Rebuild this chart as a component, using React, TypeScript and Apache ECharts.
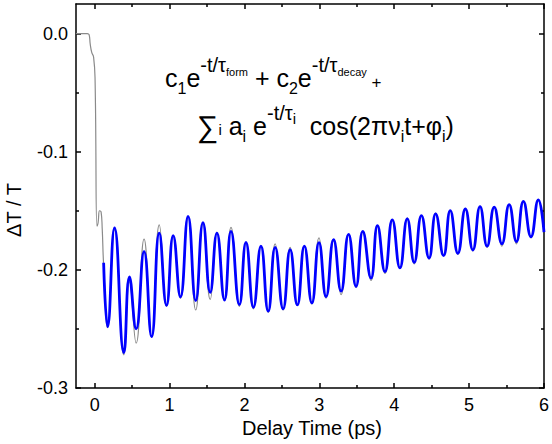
import React, { useEffect, useRef } from "react";
import * as echarts from "echarts";

// ---- data ----
const xMajorTicks = [0, 1, 2, 3, 4, 5, 6];
const xMinorTicks = [0.5, 1.5, 2.5, 3.5, 4.5, 5.5];
const yMajorTicks = [-0.3, -0.2, -0.1, 0];
const yMinorTicks = [-0.25, -0.15, -0.05];

const measuredTime = [
  -0.25, -0.1, -0.075, -0.06, -0.04, -0.015, 0.005, 0.03, 0.045, 0.065, 0.085, 0.1,
  0.119, 0.172, 0.265, 0.389, 0.464, 0.553, 0.659, 0.76, 0.862, 0.959, 1.048, 1.145,
  1.247, 1.349, 1.446, 1.542, 1.632, 1.733, 1.82, 1.932, 2.02, 2.12, 2.22, 2.317,
  2.41, 2.516, 2.61, 2.706, 2.8, 2.9, 2.995, 3.09, 3.19, 3.29, 3.39, 3.49, 3.58,
  3.69, 3.776, 3.876, 3.974, 4.076, 4.174, 4.267, 4.363, 4.465, 4.553, 4.659, 4.748,
  4.85, 4.95, 5.05, 5.146, 5.24, 5.335, 5.438, 5.535, 5.632, 5.725, 5.826, 5.924, 6.0,
];
const measuredSignal = [
  0, 0, -0.001, -0.009, -0.016, -0.02, -0.04, -0.163, -0.16, -0.15, -0.151, -0.165,
  -0.196, -0.249, -0.166, -0.272, -0.21, -0.262, -0.174, -0.257, -0.162, -0.231, -0.172, -0.224,
  -0.155, -0.234, -0.161, -0.225, -0.168, -0.226, -0.164, -0.231, -0.177, -0.233, -0.18, -0.236,
  -0.178, -0.234, -0.181, -0.23, -0.18, -0.229, -0.173, -0.224, -0.175, -0.221, -0.17, -0.215, -0.168,
  -0.209, -0.163, -0.203, -0.158, -0.199, -0.156, -0.195, -0.154, -0.191, -0.152, -0.188, -0.15,
  -0.187, -0.148, -0.184, -0.146, -0.181, -0.147, -0.18, -0.145, -0.178, -0.142, -0.173, -0.141, -0.167,
];

const fitTime = [
  0.119, 0.172, 0.265, 0.389, 0.464, 0.553, 0.659, 0.76, 0.862, 0.959, 1.048, 1.145,
  1.247, 1.349, 1.446, 1.542, 1.632, 1.733, 1.82, 1.932, 2.02, 2.12, 2.22, 2.317,
  2.41, 2.516, 2.61, 2.706, 2.8, 2.9, 2.995, 3.09, 3.19, 3.29, 3.39, 3.49, 3.58,
  3.69, 3.776, 3.876, 3.974, 4.076, 4.174, 4.267, 4.363, 4.465, 4.553, 4.659, 4.748,
  4.85, 4.95, 5.05, 5.146, 5.24, 5.335, 5.438, 5.535, 5.632, 5.725, 5.826, 5.924, 6.0,
];
const fitSignal = [
  -0.194, -0.248, -0.1645, -0.27, -0.206, -0.25, -0.1846, -0.2566, -0.169, -0.23, -0.171, -0.223,
  -0.1547, -0.226, -0.16, -0.219, -0.169, -0.2255, -0.1674, -0.2295, -0.1767, -0.2317, -0.18, -0.235,
  -0.181, -0.233, -0.183, -0.2297, -0.18, -0.228, -0.177, -0.2227, -0.1744, -0.218, -0.17, -0.214, -0.1674,
  -0.207, -0.1626, -0.2015, -0.1577, -0.1984, -0.1569, -0.1937, -0.1541, -0.19, -0.1527, -0.188, -0.1499,
  -0.186, -0.1485, -0.1832, -0.1465, -0.18, -0.147, -0.178, -0.1448, -0.176, -0.142, -0.172, -0.1408, -0.168,
];

const xTitle = "Delay Time (ps)";
const yTitle = "\u0394T / T";

const FONT = '"Liberation Sans", Arial, Helvetica, sans-serif';

// formula segments: [text, fontSize, baseline offset]
type Seg = [string, number, number];
const formulaLine1: Seg[] = [
  ["c", 25, 0], ["1", 16, 7], ["e", 25, 0], ["-t/\u03C4", 20, -15], ["form", 11, -11],
  [" + c", 25, 0], ["2", 16, 7], ["e", 25, 0], ["-t/\u03C4", 20, -15], ["decay", 11, -11], [" +", 17, 1],
];
const formulaLine2: Seg[] = [
  ["\u2211", 30, 2], ["i", 15, 0], [" a", 25, 0], ["i", 16, 7], [" e", 25, 0], ["-t/\u03C4", 20, -15],
  ["i", 15, -11], ["  cos(2\u03C0\u03BD", 25, 0], ["i", 16, 7], ["t+\u03C6", 25, 0], ["i", 16, 7], [")", 25, 0],
];

function layoutLine(segs: Seg[], x0: number, baseline: number) {
  const ctx = document.createElement("canvas").getContext("2d")!;
  let x = x0;
  const out: any[] = [];
  for (const [text, size, off] of segs) {
    const font = `${size}px ${FONT}`;
    ctx.font = font;
    const w = ctx.measureText(text).width;
    out.push({
      type: "text",
      x,
      y: baseline + off - 0.3465 * size,
      silent: true,
      style: { text, font, fill: "#000", textAlign: "left", textVerticalAlign: "middle" },
    });
    x += w;
  }
  return out;
}

export default function App() {
  const ref = useRef<HTMLDivElement>(null);
  useEffect(() => {
    const chart = echarts.init(ref.current!, null, { renderer: "svg" });
    const xMin = -0.25, xMax = 6, yMin = -0.3, yMax = 0.025;
    const lineStyle = { color: "#000", width: 1.5 };
    const mkX = (position: string, ticks: number[], len: number, labels: boolean, line: boolean) => ({
      type: "value", min: xMin, max: xMax, position,
      axisLine: { show: line, onZero: false, lineStyle },
      axisTick: { show: true, inside: true, length: len, customValues: ticks, lineStyle },
      axisLabel: labels
        ? { show: true, customValues: ticks, fontSize: 18, color: "#000", fontFamily: FONT, margin: 8 }
        : { show: false },
      splitLine: { show: false },
    });
    const mkY = (position: string, ticks: number[], len: number, labels: boolean, line: boolean) => ({
      type: "value", min: yMin, max: yMax, position,
      axisLine: { show: line, onZero: false, lineStyle },
      axisTick: { show: true, inside: true, length: len, customValues: ticks, lineStyle },
      axisLabel: labels
        ? {
            show: true, customValues: ticks, fontSize: 18, color: "#000", fontFamily: FONT, margin: 8,
            formatter: (v: number) => v.toFixed(1),
          }
        : { show: false },
      splitLine: { show: false },
    });
    const option: any = {
      animation: false,
      grid: { left: 76, top: 4, width: 472, height: 384, containLabel: false },
      xAxis: [
        mkX("bottom", xMajorTicks, 5, true, true),
        mkX("bottom", xMinorTicks, 3, false, false),
        mkX("top", xMajorTicks, 5, false, true),
        mkX("top", xMinorTicks, 3, false, false),
      ],
      yAxis: [
        mkY("left", yMajorTicks, 5, true, true),
        mkY("left", yMinorTicks, 3, false, false),
        mkY("right", yMajorTicks, 5, false, true),
        mkY("right", yMinorTicks, 3, false, false),
      ],
      series: [
        {
          type: "line", xAxisIndex: 0, yAxisIndex: 0, showSymbol: false, smooth: 0.5,
          data: measuredTime.map((t, i) => [t, measuredSignal[i]]),
          lineStyle: { color: "#8a8a8a", width: 1.2 },
        },
        {
          type: "line", xAxisIndex: 0, yAxisIndex: 0, showSymbol: false, smooth: 0.5,
          data: fitTime.map((t, i) => [t, fitSignal[i]]),
          lineStyle: { color: "#0000ff", width: 2.8 },
        },
      ],
      graphic: [
        {
          type: "text", x: 312, y: 428, silent: true,
          style: { text: xTitle, font: `20px ${FONT}`, fill: "#000", textAlign: "center", textVerticalAlign: "middle" },
        },
        {
          type: "text", x: 14, y: 210, rotation: Math.PI / 2, silent: true,
          style: { text: yTitle, font: `20px ${FONT}`, fill: "#000", textAlign: "center", textVerticalAlign: "middle" },
        },
        ...layoutLine(formulaLine1, 165, 87),
        ...layoutLine(formulaLine2, 197, 135),
      ],
    };
    chart.setOption(option);
    return () => chart.dispose();
  }, []);
  return (
    <div
      ref={ref}
      style={{ position: "fixed", left: 0, top: 0, width: 552, height: 444, background: "#fff" }}
    />
  );
}
